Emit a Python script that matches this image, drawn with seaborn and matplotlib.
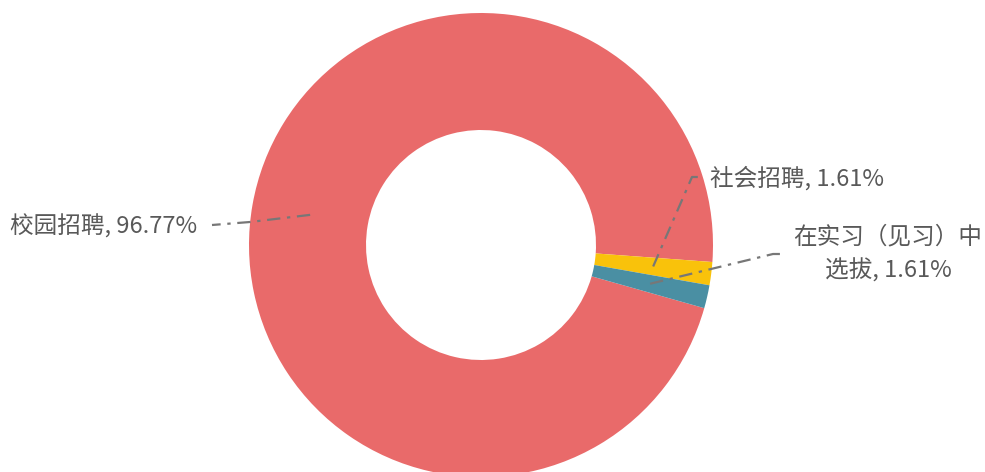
import numpy as np
import seaborn as sns
import matplotlib.pyplot as plt

sns.set_theme(style="white")
plt.rcParams['font.family'] = ['Noto Sans CJK SC', 'DejaVu Sans']

# data
categories = ["校园招聘", "社会招聘", "在实习（见习）中\n选拔"]
shares = [96.77, 1.61, 1.61]
colors = ["#E96A6A", "#F9C20B", "#4A8FA3"]

# label layout in pixels (x right, y down): elbow of the leader line, text anchor
elbows = [(250, 222), (692, 177), (773, 254)]
line_ends = [(212, 225), (703, 177), (780, 254)]
text_pos = [(197, 226), (710, 178), (888, 254)]
text_ha = ["right", "left", "center"]

W, H = 985, 472
cx, cy, R, ring = 481, 245, 232, 117
start = -15.8

fig = plt.figure(figsize=(W / 100, H / 100), dpi=100)
ax = fig.add_axes([0, 0, 1, 1])
wedges, _ = ax.pie(shares, colors=colors, startangle=start, counterclock=False,
                   radius=R, center=(cx, H - cy),
                   wedgeprops=dict(width=ring, linewidth=0))
ax.set_xlim(0, W)
ax.set_ylim(0, H)
ax.set_aspect('equal')
ax.axis('off')

r_mid = R - ring / 2
for w, cat, val, el, le, tp, ha in zip(wedges, categories, shares, elbows,
                                       line_ends, text_pos, text_ha):
    ang = np.deg2rad((w.theta1 + w.theta2) / 2)
    p0 = (cx + r_mid * np.cos(ang), H - cy + r_mid * np.sin(ang))
    xs = [p0[0], el[0], le[0]]
    ys = [p0[1], H - el[1], H - le[1]]
    ax.plot(xs, ys, color="#777777", lw=1.6, ls=(0, (6, 3, 1.5, 3)))
    ax.text(tp[0], H - tp[1], f"{cat}, {val:.2f}%", ha=ha, va="center",
            fontsize=17, color="#595959", linespacing=1.5)

fig.savefig("out.png", dpi=100)
